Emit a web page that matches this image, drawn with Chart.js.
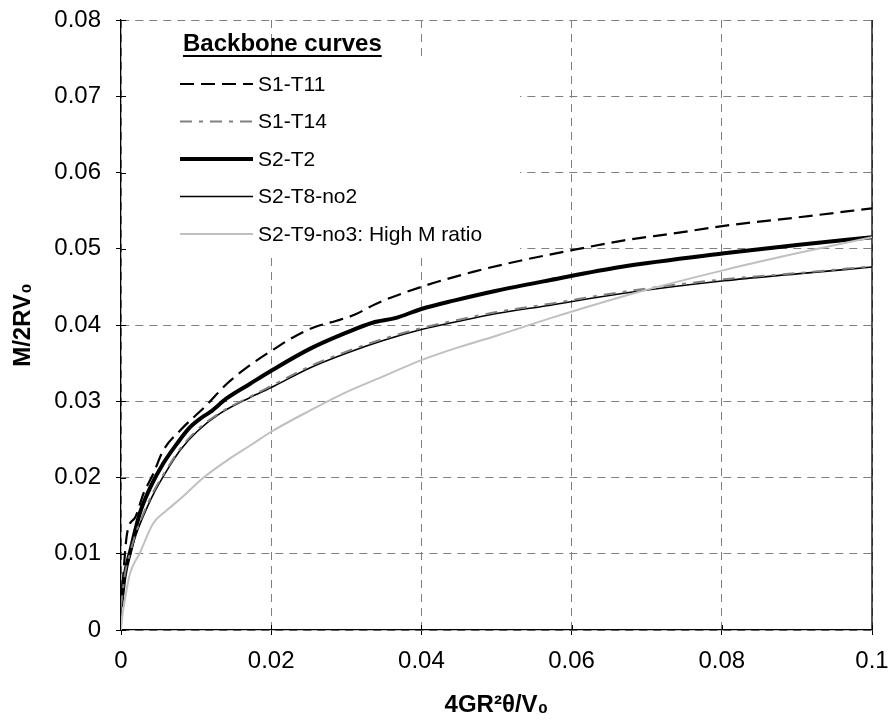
<!DOCTYPE html>
<html>
<head>
<meta charset="utf-8">
<script src="https://cdn.jsdelivr.net/npm/chart.js@4.4.1/dist/chart.umd.min.js"></script>
<style>
  html, body { margin: 0; padding: 0; background: #ffffff; }
  #wrap { width: 893px; height: 722px; }
</style>
</head>
<body>
<div id="wrap"><canvas id="c" width="893" height="722"></canvas></div>
<script>
// ---- Data ----
const seriesNames = ['S1-T11', 'S1-T14', 'S2-T2', 'S2-T8-no2', 'S2-T9-no3: High M ratio'];
const legendTitle = 'Backbone curves';
const xAxisTitle = '4GR\u00B2\u03B8/V\u2080';
const yAxisTitle = 'M/2RV\u2080';
const xTickValues = [0, 0.02, 0.04, 0.06, 0.08, 0.1];
const xTickLabels = ['0', '0.02', '0.04', '0.06', '0.08', '0.1'];
const yTickValues = [0, 0.01, 0.02, 0.03, 0.04, 0.05, 0.06, 0.07, 0.08];
const yTickLabels = ['0', '0.01', '0.02', '0.03', '0.04', '0.05', '0.06', '0.07', '0.08'];

const t11X = [0, 0.0008, 0.0019, 0.003, 0.0043, 0.0056, 0.0079, 0.0114, 0.0141, 0.017, 0.02, 0.0235, 0.026, 0.0285, 0.031, 0.034, 0.04, 0.047, 0.053, 0.06, 0.067, 0.0735, 0.0803, 0.09, 0.1];
const t11Y = [0.003, 0.0126, 0.0148, 0.0179, 0.0205, 0.0235, 0.0262, 0.0295, 0.0323, 0.0346, 0.0366, 0.0387, 0.0398, 0.0405, 0.0413, 0.0428, 0.0450, 0.0470, 0.0484, 0.0498, 0.0511, 0.0520, 0.0530, 0.0541, 0.0553];

const t14X = [0, 0.0005, 0.0012, 0.002, 0.003, 0.0043, 0.0061, 0.0079, 0.0101, 0.0132, 0.0172, 0.02, 0.0252, 0.03, 0.035, 0.04, 0.045, 0.05, 0.0572, 0.0665, 0.0803, 0.09, 0.1];
const t14Y = [0.003, 0.0072, 0.0101, 0.0128, 0.0153, 0.0181, 0.0211, 0.0238, 0.0262, 0.0285, 0.0306, 0.0320, 0.0346, 0.0365, 0.0382, 0.0396, 0.0407, 0.0417, 0.0428, 0.0443, 0.0460, 0.0468, 0.0477];

const t2X = [0, 0.0005, 0.0012, 0.0025, 0.0039, 0.0056, 0.0075, 0.0092, 0.0108, 0.0119, 0.0141, 0.0172, 0.02, 0.0252, 0.03, 0.0335, 0.0365, 0.04, 0.0443, 0.05, 0.0572, 0.0665, 0.0803, 0.09, 0.1];
const t2Y = [0.003, 0.0072, 0.0102, 0.0153, 0.0187, 0.0218, 0.0245, 0.0266, 0.0279, 0.0286, 0.0304, 0.0323, 0.0340, 0.0369, 0.0390, 0.0403, 0.0409, 0.0421, 0.0432, 0.0445, 0.0459, 0.0476, 0.0494, 0.0505, 0.0515];

const t8X = [0, 0.0005, 0.0012, 0.002, 0.003, 0.0043, 0.0061, 0.0079, 0.0101, 0.0132, 0.0172, 0.02, 0.0252, 0.03, 0.035, 0.04, 0.045, 0.05, 0.0572, 0.0665, 0.0803, 0.09, 0.1];
const t8Y = [0.003, 0.007, 0.0098, 0.0125, 0.015, 0.0178, 0.0209, 0.0236, 0.0260, 0.0284, 0.0305, 0.0318, 0.0344, 0.0363, 0.0380, 0.0394, 0.0405, 0.0415, 0.0426, 0.0441, 0.0458, 0.0467, 0.0476];

const t9X = [0, 0.0002, 0.0005, 0.0012, 0.0025, 0.0043, 0.0061, 0.0079, 0.011, 0.0145, 0.0172, 0.02, 0.0252, 0.03, 0.035, 0.04, 0.045, 0.05, 0.0572, 0.0688, 0.0803, 0.09, 0.1];
const t9Y = [0, 0.002, 0.0039, 0.0074, 0.0101, 0.014, 0.0157, 0.0172, 0.0200, 0.0225, 0.0242, 0.0260, 0.0288, 0.0312, 0.0333, 0.0354, 0.0371, 0.0386, 0.0409, 0.0443, 0.0472, 0.0494, 0.0515];

// ---- Build chart ----
const toPts = (xs, ys) => xs.map((x, i) => ({ x: x, y: ys[i] }));
const FONT = "'Liberation Sans', Arial, sans-serif";

const styles = [
  { color: '#000000', width: 2.2, dash: [14, 7] },
  { color: '#808080', width: 2, dash: [12, 7, 4, 7] },
  { color: '#000000', width: 4, dash: [] },
  { color: '#000000', width: 1.6, dash: [] },
  { color: '#c0c0c0', width: 2, dash: [] }
];
const seriesData = [toPts(t11X, t11Y), toPts(t14X, t14Y), toPts(t2X, t2Y), toPts(t8X, t8Y), toPts(t9X, t9Y)];

const drawOrder = [4, 1, 3, 2, 0];
const datasets = seriesNames.map((name, i) => ({
  label: name,
  data: seriesData[i],
  showLine: true,
  borderColor: styles[i].color,
  borderWidth: styles[i].width,
  borderDash: styles[i].dash,
  pointRadius: 0,
  pointHoverRadius: 0,
  fill: false,
  cubicInterpolationMode: 'monotone',
  order: drawOrder.indexOf(i)
}));

const decorPlugin = {
  id: 'decor',
  beforeDatasetsDraw(chart) {
    const ctx = chart.ctx;
    const a = chart.chartArea;
    const xs = chart.scales.x, ys = chart.scales.y;
    ctx.save();
    // white legend box hiding grid lines
    ctx.fillStyle = '#ffffff';
    ctx.fillRect(a.left + 1, 58, 520 - a.left - 1, 252 - 58);
    // right border
    ctx.strokeStyle = '#000000';
    ctx.lineWidth = 1.3;
    ctx.setLineDash([]);
    ctx.beginPath();
    ctx.moveTo(a.right, a.top);
    ctx.lineTo(a.right, a.bottom);
    ctx.stroke();
    // inside halves of cross tick marks
    ctx.lineWidth = 1;
    ctx.beginPath();
    yTickValues.forEach(v => {
      const p = Math.round(ys.getPixelForValue(v)) + 0.5;
      ctx.moveTo(a.left, p); ctx.lineTo(a.left + 5, p);
    });
    xTickValues.forEach(v => {
      const p = Math.round(xs.getPixelForValue(v)) + 0.5;
      ctx.moveTo(p, a.bottom); ctx.lineTo(p, a.bottom - 5);
    });
    ctx.stroke();

    // legend title, underlined
    ctx.fillStyle = '#000000';
    ctx.font = 'bold 24px ' + FONT;
    ctx.textBaseline = 'alphabetic';
    ctx.textAlign = 'left';
    ctx.fillText(legendTitle, 183, 51);
    const tw = ctx.measureText(legendTitle).width;
    ctx.fillRect(183, 55, tw, 2);

    // legend entries
    ctx.font = '21px ' + FONT;
    ctx.textBaseline = 'middle';
    seriesNames.forEach((name, i) => {
      const y = 84 + i * 37.5;
      ctx.strokeStyle = styles[i].color;
      ctx.lineWidth = styles[i].width;
      ctx.setLineDash(styles[i].dash);
      ctx.beginPath();
      ctx.moveTo(180, y);
      ctx.lineTo(253, y);
      ctx.stroke();
      ctx.setLineDash([]);
      ctx.fillStyle = '#000000';
      ctx.fillText(name, 258, y + 1);
    });
    ctx.restore();
  }
};

new Chart(document.getElementById('c'), {
  type: 'scatter',
  data: { datasets: datasets },
  plugins: [decorPlugin],
  options: {
    responsive: false,
    animation: false,
    devicePixelRatio: 1,
    layout: { padding: { top: 20, right: 21, left: 0, bottom: 0 } },
    plugins: { legend: { display: false }, tooltip: { enabled: false } },
    scales: {
      x: {
        type: 'linear',
        min: 0, max: 0.1,
        afterBuildTicks: s => { s.ticks = xTickValues.map(v => ({ value: v })); },
        afterFit: s => { s.height = 92; s.paddingLeft = 0; s.paddingRight = 0; },
        ticks: {
          callback: (v, i) => xTickLabels[i],
          font: { family: FONT, size: 24 },
          color: '#000000',
          padding: 12,
          maxRotation: 0
        },
        grid: { color: '#808080', lineWidth: 1, tickLength: 5, tickColor: '#000000' },
        border: { display: true, color: '#000000', width: 1.3, dash: [8, 6] },
        title: {
          display: true, text: xAxisTitle,
          font: { family: FONT, size: 24, weight: 'bold' },
          color: '#000000',
          padding: { top: 0, bottom: 2 }
        }
      },
      y: {
        type: 'linear',
        min: 0, max: 0.08,
        afterBuildTicks: s => { s.ticks = yTickValues.map(v => ({ value: v })); },
        afterFit: s => { s.width = 121; s.paddingTop = 0; s.paddingBottom = 0; },
        ticks: {
          callback: (v, i) => yTickLabels[i],
          font: { family: FONT, size: 24 },
          color: '#000000',
          padding: 15
        },
        grid: { color: '#808080', lineWidth: 1, tickLength: 5, tickColor: '#000000' },
        border: { display: true, color: '#000000', width: 1.3, dash: [8, 6] },
        title: {
          display: true, text: yAxisTitle,
          font: { family: FONT, size: 24, weight: 'bold' },
          color: '#000000',
          padding: { top: 9, bottom: 0 }
        }
      }
    }
  }
});
</script>
</body>
</html>
